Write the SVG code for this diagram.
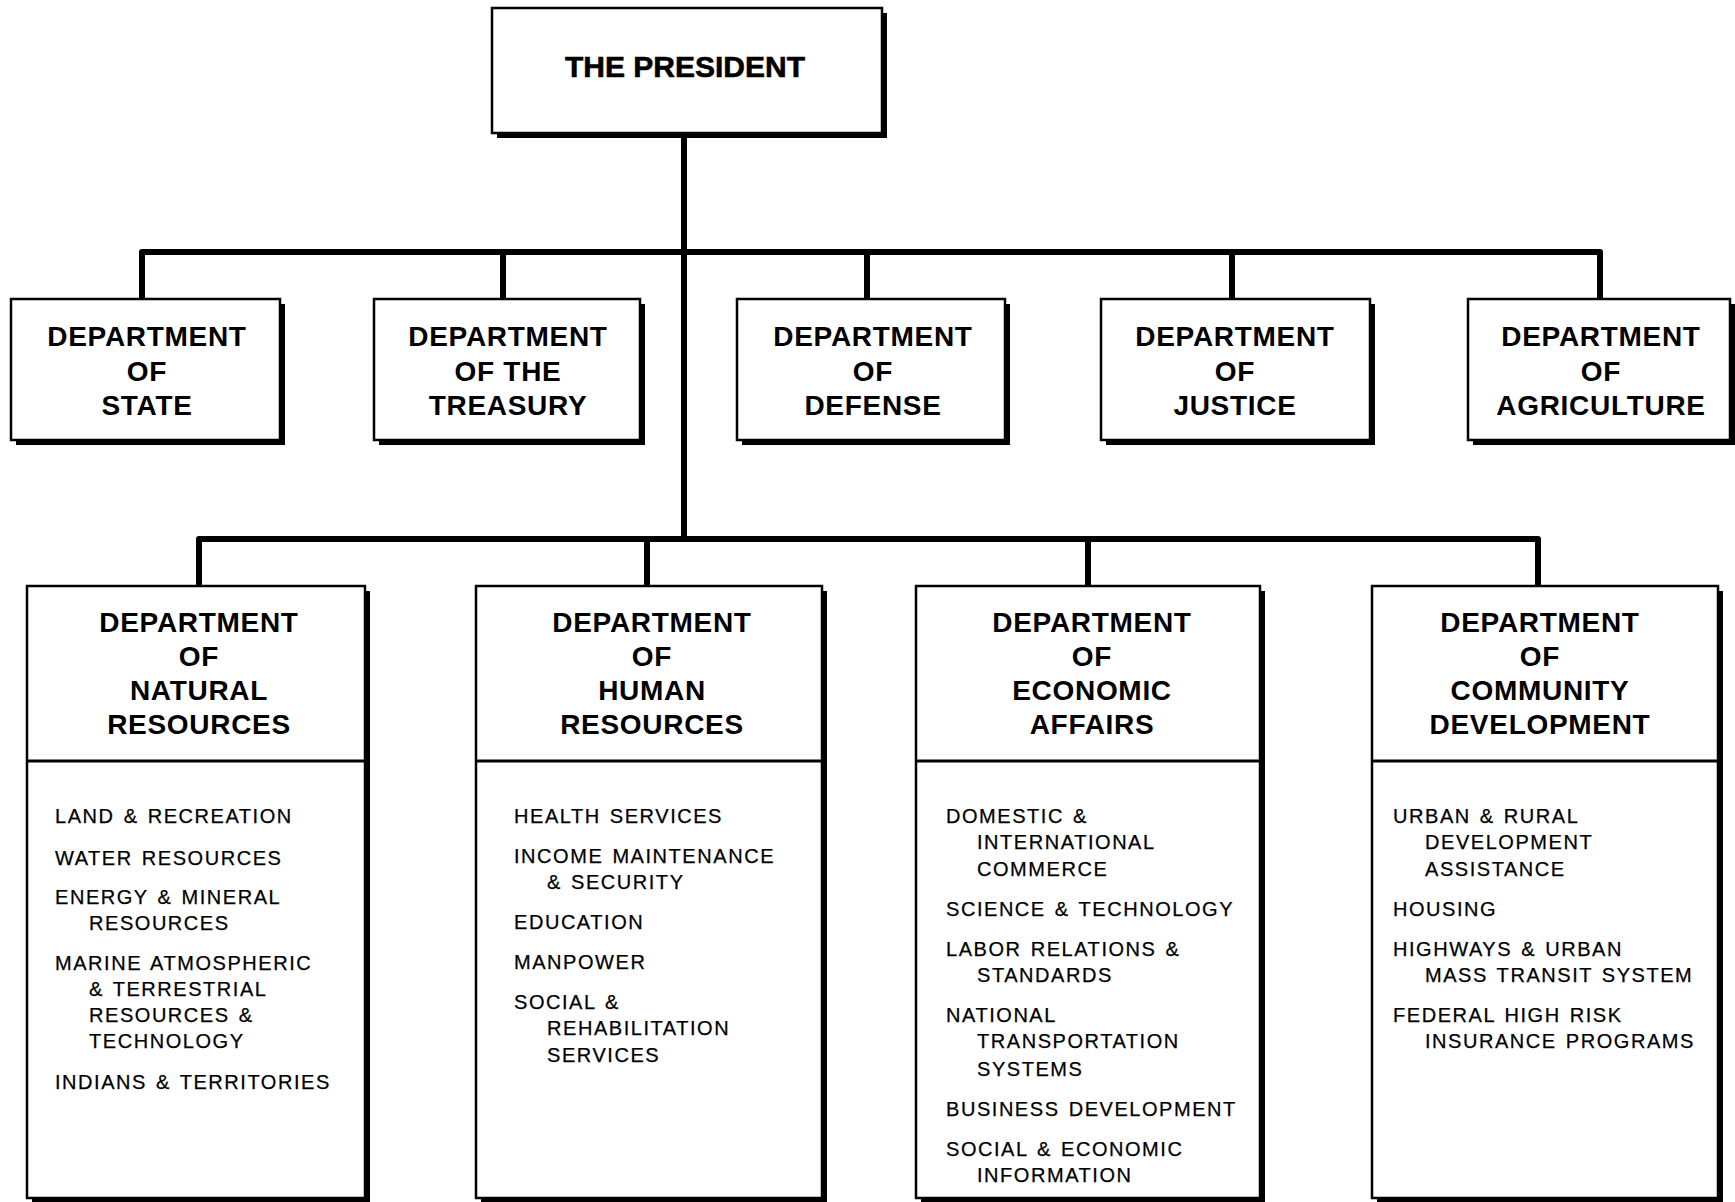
<svg xmlns="http://www.w3.org/2000/svg" width="1735" height="1202" viewBox="0 0 1735 1202">
  <style>
    .box { fill: #ffffff; stroke: #000000; stroke-width: 2.5; }
    .shadow { fill: #000000; }
    .rule { stroke: #000000; stroke-width: 3; }
    .link { fill: none; stroke: #000000; stroke-width: 6; stroke-linejoin: round; }
    .pres { font-family: "Liberation Sans", Arial, sans-serif; font-weight: bold; font-size: 30px; text-anchor: middle; fill: #000; stroke: #000; stroke-width: 0.6; }
    .hd { font-family: "Liberation Sans", Arial, sans-serif; font-weight: bold; font-size: 28px; letter-spacing: 0.7px; text-anchor: middle; fill: #000; }
    .it { font-family: "Liberation Sans", Arial, sans-serif; font-size: 20px; letter-spacing: 1.55px; word-spacing: 2px; fill: #000; stroke: #000; stroke-width: 0.25; }
  </style>
  <rect width="1735" height="1202" fill="#ffffff"/>

  <!-- connectors -->
  <g id="connectors">
    <path class="link" d="M684,133 V539"/>
    <path class="link" d="M142,299 V252 H1600 V299"/>
    <path class="link" d="M503,252 V299"/>
    <path class="link" d="M867,252 V299"/>
    <path class="link" d="M1232,252 V299"/>
    <path class="link" d="M199,586 V539 H1538 V586"/>
    <path class="link" d="M647,539 V586"/>
    <path class="link" d="M1088,539 V586"/>
  </g>

  <!-- head -->
  <g id="president">
    <rect class="shadow" x="497" y="13" width="390" height="125"/>
    <rect class="box" x="492" y="8" width="390" height="125"/>
    <text class="pres" x="685" y="77">THE PRESIDENT</text>
  </g>

  <!-- retained departments -->
  <g id="dept-state">
    <rect class="shadow" x="16" y="304" width="269" height="141"/>
    <rect class="box" x="11" y="299" width="269" height="141"/>
    <text class="hd" x="147" y="346">DEPARTMENT</text>
    <text class="hd" x="147" y="381">OF</text>
    <text class="hd" x="147" y="415">STATE</text>
  </g>
  <g id="dept-treasury">
    <rect class="shadow" x="379" y="304" width="266" height="141"/>
    <rect class="box" x="374" y="299" width="266" height="141"/>
    <text class="hd" x="508" y="346">DEPARTMENT</text>
    <text class="hd" x="508" y="381">OF THE</text>
    <text class="hd" x="508" y="415">TREASURY</text>
  </g>
  <g id="dept-defense">
    <rect class="shadow" x="742" y="304" width="268" height="141"/>
    <rect class="box" x="737" y="299" width="268" height="141"/>
    <text class="hd" x="873" y="346">DEPARTMENT</text>
    <text class="hd" x="873" y="381">OF</text>
    <text class="hd" x="873" y="415">DEFENSE</text>
  </g>
  <g id="dept-justice">
    <rect class="shadow" x="1106" y="304" width="269" height="141"/>
    <rect class="box" x="1101" y="299" width="269" height="141"/>
    <text class="hd" x="1235" y="346">DEPARTMENT</text>
    <text class="hd" x="1235" y="381">OF</text>
    <text class="hd" x="1235" y="415">JUSTICE</text>
  </g>
  <g id="dept-agriculture">
    <rect class="shadow" x="1473" y="304" width="262" height="141"/>
    <rect class="box" x="1468" y="299" width="262" height="141"/>
    <text class="hd" x="1601" y="346">DEPARTMENT</text>
    <text class="hd" x="1601" y="381">OF</text>
    <text class="hd" x="1601" y="415">AGRICULTURE</text>
  </g>

  <!-- new departments -->
  <g id="dept-natural-resources">
    <rect class="shadow" x="32" y="591" width="338" height="612"/>
    <rect class="box" x="27" y="586" width="338" height="612"/>
    <line class="rule" x1="27" y1="761" x2="365" y2="761"/>
    <text class="hd" x="199" y="632">DEPARTMENT</text>
    <text class="hd" x="199" y="666">OF</text>
    <text class="hd" x="199" y="700">NATURAL</text>
    <text class="hd" x="199" y="734">RESOURCES</text>
    <text class="it" x="55" y="823">LAND &amp; RECREATION</text>
    <text class="it" x="55" y="865">WATER RESOURCES</text>
    <text class="it" x="55" y="904">ENERGY &amp; MINERAL</text>
    <text class="it" x="89" y="930">RESOURCES</text>
    <text class="it" x="55" y="970">MARINE ATMOSPHERIC</text>
    <text class="it" x="89" y="996">&amp; TERRESTRIAL</text>
    <text class="it" x="89" y="1022">RESOURCES &amp;</text>
    <text class="it" x="89" y="1048">TECHNOLOGY</text>
    <text class="it" x="55" y="1089">INDIANS &amp; TERRITORIES</text>
  </g>
  <g id="dept-human-resources">
    <rect class="shadow" x="481" y="591" width="346" height="612"/>
    <rect class="box" x="476" y="586" width="346" height="612"/>
    <line class="rule" x1="476" y1="761" x2="822" y2="761"/>
    <text class="hd" x="652" y="632">DEPARTMENT</text>
    <text class="hd" x="652" y="666">OF</text>
    <text class="hd" x="652" y="700">HUMAN</text>
    <text class="hd" x="652" y="734">RESOURCES</text>
    <text class="it" x="514" y="823">HEALTH SERVICES</text>
    <text class="it" x="514" y="863">INCOME MAINTENANCE</text>
    <text class="it" x="547" y="889">&amp; SECURITY</text>
    <text class="it" x="514" y="929">EDUCATION</text>
    <text class="it" x="514" y="969">MANPOWER</text>
    <text class="it" x="514" y="1009">SOCIAL &amp;</text>
    <text class="it" x="547" y="1035">REHABILITATION</text>
    <text class="it" x="547" y="1062">SERVICES</text>
  </g>
  <g id="dept-economic-affairs">
    <rect class="shadow" x="921" y="591" width="344" height="612"/>
    <rect class="box" x="916" y="586" width="344" height="612"/>
    <line class="rule" x1="916" y1="761" x2="1260" y2="761"/>
    <text class="hd" x="1092" y="632">DEPARTMENT</text>
    <text class="hd" x="1092" y="666">OF</text>
    <text class="hd" x="1092" y="700">ECONOMIC</text>
    <text class="hd" x="1092" y="734">AFFAIRS</text>
    <text class="it" x="946" y="823">DOMESTIC &amp;</text>
    <text class="it" x="977" y="849">INTERNATIONAL</text>
    <text class="it" x="977" y="876">COMMERCE</text>
    <text class="it" x="946" y="916">SCIENCE &amp; TECHNOLOGY</text>
    <text class="it" x="946" y="956">LABOR RELATIONS &amp;</text>
    <text class="it" x="977" y="982">STANDARDS</text>
    <text class="it" x="946" y="1022">NATIONAL</text>
    <text class="it" x="977" y="1048">TRANSPORTATION</text>
    <text class="it" x="977" y="1076">SYSTEMS</text>
    <text class="it" x="946" y="1116">BUSINESS DEVELOPMENT</text>
    <text class="it" x="946" y="1156">SOCIAL &amp; ECONOMIC</text>
    <text class="it" x="977" y="1182">INFORMATION</text>
  </g>
  <g id="dept-community-development">
    <rect class="shadow" x="1377" y="591" width="346" height="612"/>
    <rect class="box" x="1372" y="586" width="346" height="612"/>
    <line class="rule" x1="1372" y1="761" x2="1718" y2="761"/>
    <text class="hd" x="1540" y="632">DEPARTMENT</text>
    <text class="hd" x="1540" y="666">OF</text>
    <text class="hd" x="1540" y="700">COMMUNITY</text>
    <text class="hd" x="1540" y="734">DEVELOPMENT</text>
    <text class="it" x="1393" y="823">URBAN &amp; RURAL</text>
    <text class="it" x="1425" y="849">DEVELOPMENT</text>
    <text class="it" x="1425" y="876">ASSISTANCE</text>
    <text class="it" x="1393" y="916">HOUSING</text>
    <text class="it" x="1393" y="956">HIGHWAYS &amp; URBAN</text>
    <text class="it" x="1425" y="982">MASS TRANSIT SYSTEM</text>
    <text class="it" x="1393" y="1022">FEDERAL HIGH RISK</text>
    <text class="it" x="1425" y="1048">INSURANCE PROGRAMS</text>
  </g>
</svg>
